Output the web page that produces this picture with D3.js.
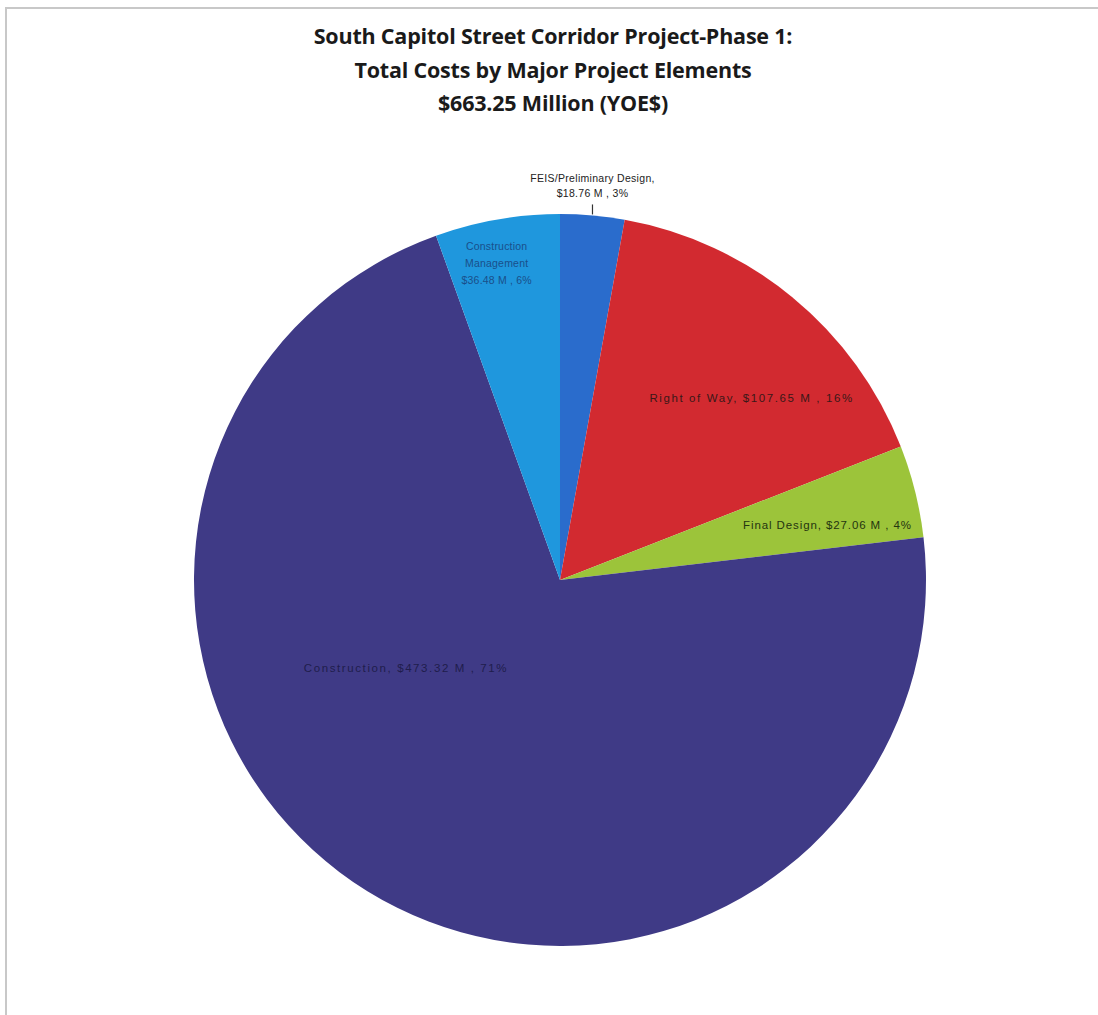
<!DOCTYPE html>
<html>
<head>
<meta charset="utf-8">
<script src="https://cdn.jsdelivr.net/npm/d3@7"></script>
<style>
  html, body { margin: 0; padding: 0; background: #ffffff; }
  svg { display: block; }
</style>
</head>
<body>
<svg id="chart" width="1098" height="1015"></svg>
<script>
// Project elements, clockwise from 12 o'clock
const categories = ["FEIS/Preliminary Design", "Right of Way", "Final Design", "Construction", "Construction Management"];
const costs = [18.76, 107.65, 27.06, 473.32, 36.48];
const percents = ["3%", "16%", "4%", "71%", "6%"];
const colors = ["#2a6ccc", "#d22a30", "#9cc43a", "#3f3a86", "#1f97dd"];
const titleLines = [
  "South Capitol Street Corridor Project-Phase 1:",
  "Total Costs by Major Project Elements",
  "$663.25 Million (YOE$)"
];

const svg = d3.select("#chart");

// chart frame
svg.append("path")
  .attr("d", "M6,1015 V8 H1098")
  .attr("fill", "none")
  .attr("stroke", "#c8c8c8")
  .attr("stroke-width", 2);

// title
svg.append("g")
  .selectAll("text")
  .data(titleLines)
  .join("text")
  .attr("x", 553)
  .attr("y", (d, i) => 44 + i * 33.5)
  .attr("text-anchor", "middle")
  .attr("font-family", "'Open Sans', 'Liberation Sans', sans-serif")
  .attr("font-weight", "bold")
  .attr("font-size", 21.5)
  .attr("letter-spacing", -0.2)
  .attr("fill", "#1a1a1a")
  .text(d => d);

const cx = 560, cy = 580, r = 366;
const data = categories.map((c, i) => ({ name: c, value: costs[i], pct: percents[i], color: colors[i] }));

const pie = d3.pie().value(d => d.value).sort(null);
const arcs = pie(data);
const arc = d3.arc().innerRadius(0).outerRadius(r);

const g = svg.append("g").attr("transform", `translate(${cx},${cy})`);
g.selectAll("path")
  .data(arcs)
  .join("path")
  .attr("d", arc)
  .attr("fill", d => d.data.color)
  .attr("stroke", "none");

const labelFont = "'Liberation Sans', 'DejaVu Sans', sans-serif";
const fmt = d => `$${d.value.toFixed(2)} M , ${d.pct}`;

// point along the slice's mid-angle at k times the radius
function labelPos(a, k) {
  const mid = (a.startAngle + a.endAngle) / 2;
  return [Math.sin(mid) * r * k, -Math.cos(mid) * r * k];
}

function addLabel(lines, x, y, color, size, lh, spacing) {
  const t = g.append("text")
    .attr("text-anchor", "middle")
    .attr("font-family", labelFont)
    .attr("font-size", size)
    .attr("letter-spacing", spacing || 0)
    .attr("fill", color);
  lines.forEach((l, i) => {
    t.append("tspan").attr("x", x).attr("y", y + i * lh).text(l);
  });
}

// FEIS label sits outside the pie with a short leader
{
  const a = arcs[0];
  const [px, py] = labelPos(a, 1.0);
  g.append("line")
    .attr("x1", px).attr("y1", py - 1)
    .attr("x2", px).attr("y2", py - 11)
    .attr("stroke", "#333").attr("stroke-width", 1.2);
  addLabel([a.data.name + ",", fmt(a.data)], px, py - 33, "#222", 10.5, 15, 0.3);
}
// Right of Way
{
  const a = arcs[1];
  const [px, py] = labelPos(a, 0.70);
  addLabel([`${a.data.name}, ${fmt(a.data)}`], px + 29, py + 20, "#3a1818", 11.5, 15, 1.6);
}
// Final Design
{
  const a = arcs[2];
  const [px, py] = labelPos(a, 0.68);
  addLabel([`${a.data.name}, ${fmt(a.data)}`], px + 26, py + 9, "#253510", 11.5, 15, 0.9);
}
// Construction
{
  const a = arcs[3];
  const [px, py] = labelPos(a, 0.53);
  addLabel([`${a.data.name}, ${fmt(a.data)}`], px - 52, py - 73, "#201d4c", 11.5, 15, 1.6);
}
// Construction Management
{
  const a = arcs[4];
  const [px, py] = labelPos(a, 0.80);
  addLabel(["Construction", "Management", fmt(a.data)], px - 13, py - 42, "#1a4f8a", 10.5, 17, 0.2);
}
</script>
</body>
</html>
